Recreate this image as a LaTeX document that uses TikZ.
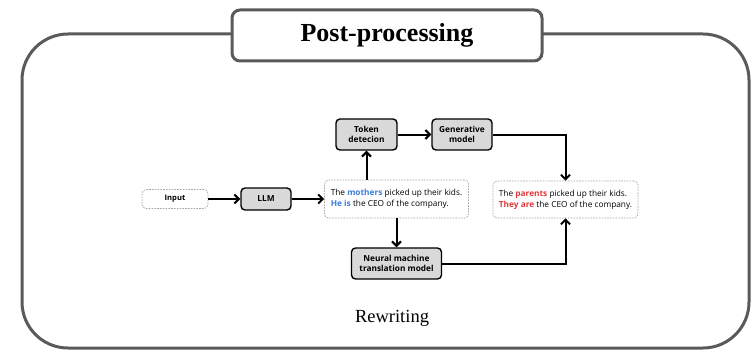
\documentclass[tikz,border=0pt]{standalone}
\usepackage{fontspec}
\setmainfont{Liberation Serif}
\newfontfamily\boxfont{Open Sans}
\usetikzlibrary{arrows.meta}
\definecolor{framegray}{HTML}{5A5A5A}
\definecolor{boxgray}{HTML}{D9D9D9}
\definecolor{hlblue}{HTML}{3B7DDD}
\definecolor{hlred}{HTML}{E23A3A}
\tikzset{
  procbox/.style={draw=black, line width=1.4pt, fill=boxgray, rounded corners=4pt,
    inner sep=0pt, align=center, font=\boxfont\fontsize{8.3}{10.5}\selectfont\bfseries},
  textbox/.style={draw=gray!70, line width=0.7pt, dash pattern=on 1.6pt off 1.2pt,
    fill=white, rounded corners=4pt, inner sep=0pt, align=left,
    font=\boxfont\fontsize{8.3}{11}\selectfont},
  flow/.style={draw=black, line width=2pt, line cap=butt,
    -{Straight Barb[length=4.5pt,width=9pt,line width=2pt]}},
}
\begin{document}
\begin{tikzpicture}[x=1pt,y=-1pt]
\useasboundingbox (0,0) rectangle (751,350);
% outer frame
\draw[framegray, line width=3pt, rounded corners=46pt] (22,34) rectangle (749,348);
% title tab
\node[draw=framegray, line width=3pt, fill=white, rounded corners=8pt,
      minimum width=310pt, minimum height=51pt, inner sep=0pt,
      font=\fontsize{26}{30}\selectfont\bfseries] (title) at (387,35.5) {Post-processing};
\node[font=\fontsize{18.5}{22}\selectfont] (caption) at (392,318) {Rewriting};

% pipeline nodes
\node[textbox, minimum width=66pt, minimum height=19pt, align=center,
      font=\boxfont\fontsize{7.6}{9}\selectfont\bfseries] (input) at (175,199) {Input};
\node[procbox, minimum width=50pt, minimum height=22pt] (llm) at (266,199) {LLM};
\node[textbox, minimum width=144pt, minimum height=38pt] (mid) at (396.5,199)
  {The \textcolor{hlblue}{\bfseries mothers} picked up their kids.\\
   \textcolor{hlblue}{\bfseries He is} the CEO of the company.};
\node[procbox, minimum width=61pt, minimum height=31pt] (tok) at (366.5,134.5) {Token\\detecion};
\node[procbox, minimum width=60pt, minimum height=31pt] (gen) at (462,134.5) {Generative\\model};
\node[textbox, minimum width=145pt, minimum height=37pt] (out) at (565.5,199.5)
  {The \textcolor{hlred}{\bfseries parents} picked up their kids.\\
   \textcolor{hlred}{\bfseries They are} the CEO of the company.};
\node[procbox, minimum width=90pt, minimum height=31pt] (nmt) at (396.5,263.5)
  {Neural machine\\translation model};

% connectors
\draw[flow] (input.east) -- (llm.west);
\draw[flow] (llm.east) -- (mid.west);
\draw[flow] (mid.north -| tok.south) -- (tok.south);
\draw[flow] (tok.east) -- (gen.west);
\draw[flow] (gen.east) -| (out.north);
\draw[flow] (mid.south) -- (nmt.north);
\draw[flow] (nmt.east) -| (out.south);
\end{tikzpicture}
\end{document}
